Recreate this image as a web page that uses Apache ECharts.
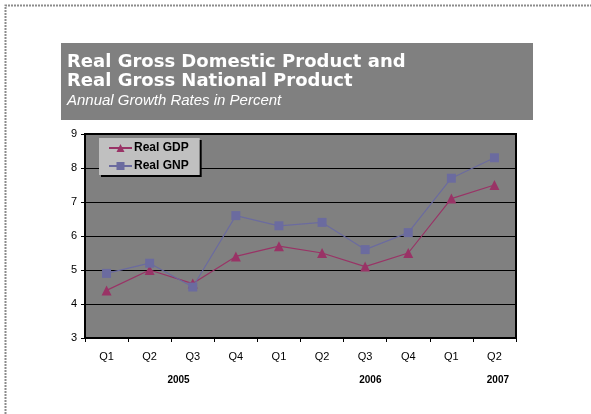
<!DOCTYPE html>
<html>
<head>
<meta charset="utf-8">
<script src="https://cdn.jsdelivr.net/npm/echarts@6/dist/echarts.min.js"></script>
<style>
  html, body { margin: 0; padding: 0; background: #fff; }
  #chart { width: 591px; height: 414px; }
</style>
</head>
<body>
<div id="chart"></div>
<script>
// Quarterly growth rates, 2005 Q1 – 2007 Q2
const quarters = ['Q1', 'Q2', 'Q3', 'Q4', 'Q1', 'Q2', 'Q3', 'Q4', 'Q1', 'Q2'];
const realGDP = [4.4, 5.0, 4.6, 5.4, 5.7, 5.5, 5.1, 5.5, 7.1, 7.5];
const realGNP = [4.9, 5.2, 4.5, 6.6, 6.3, 6.4, 5.6, 6.1, 7.7, 8.3];
const years = ['2005', '2006', '2007'];
const yTicks = [3, 4, 5, 6, 7, 8, 9];

// Where each year label sits along the category axis (in category units)
const yearSlots = [2.17, 6.62, 9.58];

const FONT = 'Liberation Sans, Arial, sans-serif';
const TITLE_FONT = 'DejaVu Sans, Verdana, sans-serif';
const chart = echarts.init(document.getElementById('chart'));

const grid = { left: 85, top: 134, width: 431, height: 204 };

chart.setOption({
  animation: false,
  backgroundColor: '#ffffff',
  title: {
    text: 'Real Gross Domestic Product and\nReal Gross National Product',
    subtext: 'Annual Growth Rates in Percent',
    left: 67,
    top: 53,
    padding: 0,
    itemGap: 2,
    textStyle: {
      fontFamily: TITLE_FONT,
      fontSize: 18,
      fontWeight: 'bold',
      color: '#ffffff',
      lineHeight: 19,
      textShadowColor: '#000000',
      textShadowOffsetX: 1,
      textShadowOffsetY: 1,
      textShadowBlur: 0
    },
    subtextStyle: {
      fontFamily: FONT,
      fontSize: 15,
      fontStyle: 'italic',
      color: '#ffffff',
      lineHeight: 16
    }
  },
  legend: {
    orient: 'vertical',
    left: 99,
    top: 138,
    padding: [3, 11, 2, 9],
    itemGap: 4,
    itemWidth: 23,
    itemHeight: 10,
    backgroundColor: '#c0c0c0',
    shadowColor: '#000000',
    shadowOffsetX: 2,
    shadowOffsetY: 2,
    shadowBlur: 0,
    textStyle: { fontFamily: FONT, fontSize: 12, fontWeight: 'bold', color: '#000', lineHeight: 14, padding: [0, 0, 0, -3] },
    data: ['Real GDP', 'Real GNP']
  },
  grid: Object.assign({
    show: true,
    backgroundColor: '#808080',
    borderColor: '#000000',
    borderWidth: 2
  }, grid),
  xAxis: {
    type: 'category',
    data: quarters,
    boundaryGap: true,
    axisLine: { lineStyle: { color: '#000', width: 2 } },
    axisTick: { show: true, length: 4, lineStyle: { color: '#000' } },
    axisLabel: { fontFamily: FONT, fontSize: 11, color: '#000', margin: 13 }
  },
  yAxis: {
    type: 'value',
    min: yTicks[0],
    max: yTicks[yTicks.length - 1],
    interval: 1,
    axisLine: { show: true, lineStyle: { color: '#000', width: 2 } },
    axisTick: { show: true, length: 4, lineStyle: { color: '#000' } },
    axisLabel: { fontFamily: FONT, fontSize: 11, color: '#000', margin: 8 },
    splitLine: { show: true, lineStyle: { color: '#000', width: 1 } }
  },
  series: [
    {
      name: 'Real GDP',
      type: 'line',
      data: realGDP,
      symbol: 'triangle',
      symbolSize: 10,
      lineStyle: { color: '#993366', width: 1.2 },
      itemStyle: { color: '#993366' }
    },
    {
      name: 'Real GNP',
      type: 'line',
      data: realGNP,
      symbol: 'rect',
      symbolSize: 9,
      lineStyle: { color: '#6b6b9f', width: 1.2 },
      itemStyle: { color: '#6b6b9f' }
    }
  ]
});

// Frame, title panel and year labels
const step = grid.width / quarters.length;
const graphics = [
  {
    type: 'rect', z: -1,
    shape: { x: 61, y: 43, width: 472, height: 77 },
    style: { fill: '#808080' }
  },
  {
    type: 'polyline', silent: true,
    shape: { points: [[5.5, 414], [5.5, 5.5], [591, 5.5]] },
    style: { fill: null, stroke: '#8c8c8c', lineWidth: 2, lineDash: [2, 1] }
  }
];
years.forEach(function (y, i) {
  graphics.push({
    type: 'text',
    x: grid.left + yearSlots[i] * step,
    y: 380,
    style: {
      text: y,
      fontFamily: FONT,
      fontSize: 10,
      fontWeight: 'bold',
      fill: '#000',
      align: 'center',
      verticalAlign: 'middle'
    }
  });
});
chart.setOption({ graphic: graphics });
</script>
</body>
</html>
